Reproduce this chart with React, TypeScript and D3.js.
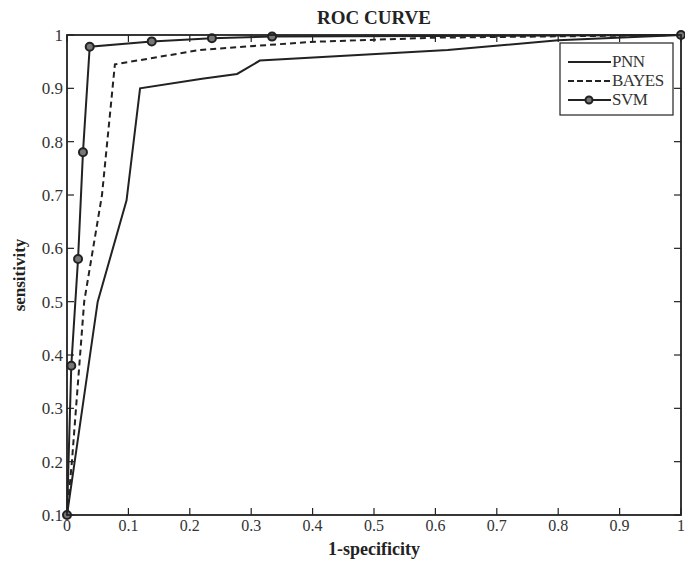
import React from 'react';
import * as d3 from 'd3';

// ROC points: [1-specificity, sensitivity]
const pnn: [number, number][] = [
  [0, 0.1], [0.05, 0.5], [0.097, 0.69], [0.119, 0.9], [0.22, 0.918], [0.277, 0.927],
  [0.314, 0.952], [0.62, 0.972], [0.8, 0.99], [1, 1],
];
const bayes: [number, number][] = [
  [0, 0.1], [0.008, 0.2], [0.028, 0.5], [0.057, 0.7], [0.078, 0.945], [0.15, 0.959],
  [0.217, 0.972], [0.396, 0.987], [0.6, 0.995], [1, 1],
];
const svm: [number, number][] = [
  [0, 0.1], [0.007, 0.38], [0.018, 0.58], [0.026, 0.78], [0.037, 0.978], [0.138, 0.988],
  [0.236, 0.994], [0.334, 0.997], [1, 1],
];
const xTicks = [0, 0.1, 0.2, 0.3, 0.4, 0.5, 0.6, 0.7, 0.8, 0.9, 1];
const yTicks = [0.1, 0.2, 0.3, 0.4, 0.5, 0.6, 0.7, 0.8, 0.9, 1];
const legendNames = ['PNN', 'BAYES', 'SVM'];

const W = 685, H = 563;
const margin = { left: 67, right: 4, top: 27, bottom: 56 };
const ink = '#222';
const font = '"Liberation Serif", "DejaVu Serif", serif';

export default function App() {
  const x = d3.scaleLinear().domain([0, 1]).range([margin.left, W - margin.right]);
  const y = d3.scaleLinear().domain([0.1, 1]).range([H - margin.bottom + 8, margin.top + 8]);
  const line = d3.line<[number, number]>().x(d => x(d[0])).y(d => y(d[1]));
  const x0 = x(0), x1 = x(1), y0 = y(0.1), y1 = y(1);
  const tl = 7;

  return (
    <svg width={W} height={H} style={{ position: 'absolute', left: 0, top: 0, background: '#fff' }}>
      <text x={(x0 + x1) / 2} y={24} textAnchor="middle" fontFamily={font} fontWeight="bold" fontSize={19} fill={ink}>ROC CURVE</text>

      {/* ticks on all four sides, pointing inward */}
      {xTicks.map(t => (
        <g key={'x' + t} stroke={ink} strokeWidth={1.2}>
          <line x1={x(t)} x2={x(t)} y1={y0} y2={y0 - tl} />
          <line x1={x(t)} x2={x(t)} y1={y1} y2={y1 + tl} />
        </g>
      ))}
      {yTicks.map(t => (
        <g key={'y' + t} stroke={ink} strokeWidth={1.2}>
          <line x1={x0} x2={x0 + tl} y1={y(t)} y2={y(t)} />
          <line x1={x1} x2={x1 - tl} y1={y(t)} y2={y(t)} />
        </g>
      ))}
      {xTicks.map(t => (
        <text key={'xl' + t} x={x(t)} y={y0 + 16} textAnchor="middle" fontFamily={font} fontSize={16} fill="#333">{t}</text>
      ))}
      {yTicks.map(t => (
        <text key={'yl' + t} x={x0 - 4} y={y(t) + 6} textAnchor="end" fontFamily={font} fontSize={17} fill="#333">{t}</text>
      ))}

      <path d={line(pnn) ?? ''} fill="none" stroke={ink} strokeWidth={2} />
      <path d={line(bayes) ?? ''} fill="none" stroke={ink} strokeWidth={2} strokeDasharray="6 4" />
      <path d={line(svm) ?? ''} fill="none" stroke={ink} strokeWidth={2} />
      {svm.map((d, i) => (
        <circle key={'m' + i} cx={x(d[0])} cy={y(d[1])} r={4} fill="#777" stroke={ink} strokeWidth={2} />
      ))}

      <rect x={x0} y={y1} width={x1 - x0} height={y0 - y1} fill="none" stroke={ink} strokeWidth={1.8} />

      {/* legend */}
      <rect x={560} y={43} width={113} height={72} fill="#fff" stroke={ink} strokeWidth={1.2} />
      {legendNames.map((name, i) => {
        const ly = 62 + i * 19;
        return (
          <g key={name}>
            <line x1={568} x2={611} y1={ly} y2={ly} stroke={ink} strokeWidth={2} strokeDasharray={i === 1 ? '6 3' : undefined} />
            {i === 2 && <circle cx={589} cy={ly} r={3.5} fill="#777" stroke={ink} strokeWidth={2} />}
            <text x={612} y={ly + 5} fontFamily={font} fontSize={17} fill="#333" letterSpacing={-0.5}>{name}</text>
          </g>
        );
      })}

      <text x={(x0 + x1) / 2} y={555} textAnchor="middle" fontFamily={font} fontWeight="bold" fontSize={18} fill={ink}>1-specificity</text>
      <text transform={`translate(25,${(y0 + y1) / 2}) rotate(-90)`} textAnchor="middle" fontFamily={font} fontWeight="bold" fontSize={17} fill={ink}>sensitivity</text>
    </svg>
  );
}
